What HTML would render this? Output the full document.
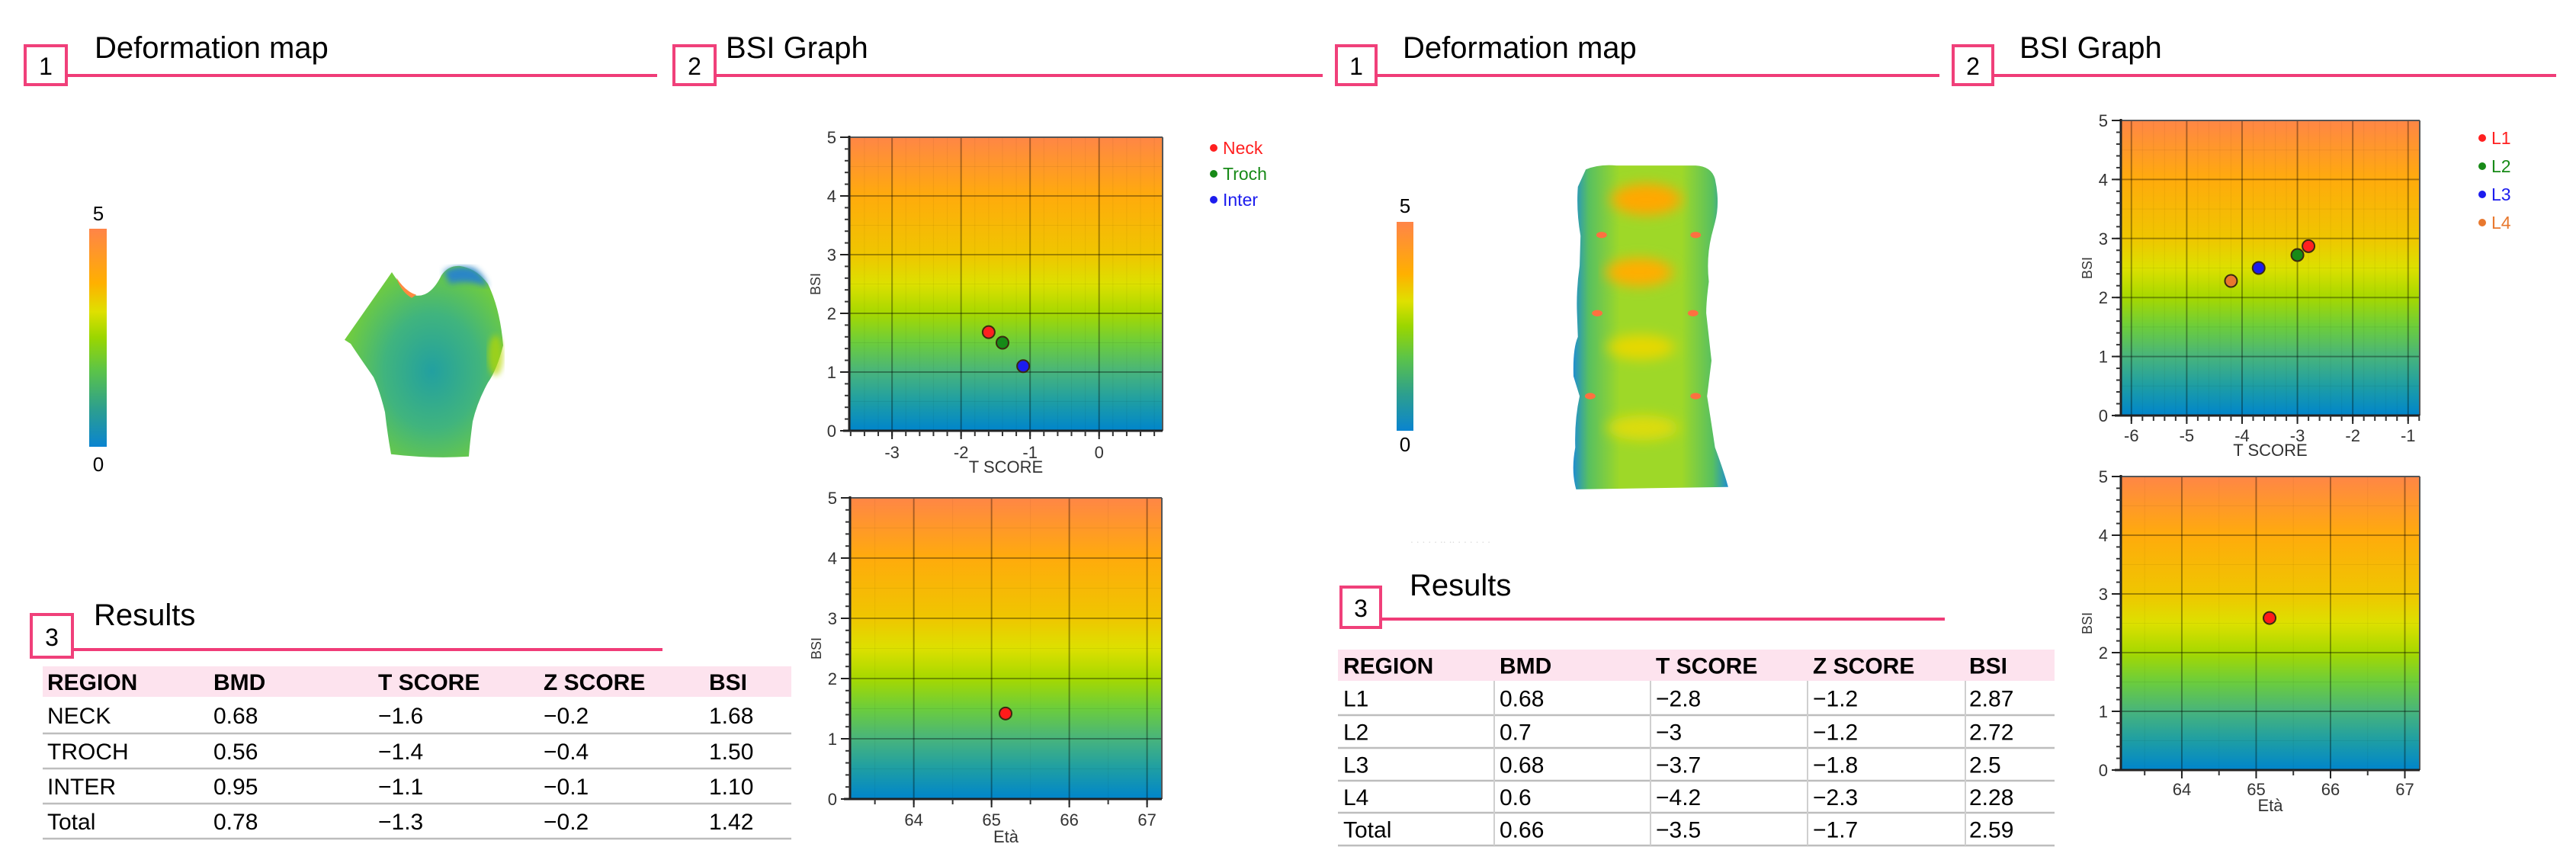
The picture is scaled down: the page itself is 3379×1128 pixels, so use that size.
<!DOCTYPE html>
<html><head><meta charset="utf-8"><title>BSI Report</title>
<style>
html,body{margin:0;padding:0;background:#fff;}
svg{display:block;font-family:"Liberation Sans",Arial,sans-serif;}
</style></head>
<body>
<svg id="root" width="3379" height="1128" viewBox="0 0 3379 1128" xmlns="http://www.w3.org/2000/svg">
<defs>
  <linearGradient id="plotGrad" x1="0" y1="0" x2="0" y2="1">
    <stop offset="0" stop-color="#ff8646"/>
    <stop offset="0.2" stop-color="#ffab0c"/>
    <stop offset="0.4" stop-color="#efc600"/>
    <stop offset="0.5" stop-color="#dde000"/>
    <stop offset="0.6" stop-color="#a6d800"/>
    <stop offset="0.7" stop-color="#6ccd3c"/>
    <stop offset="0.8" stop-color="#48b47c"/>
    <stop offset="0.9" stop-color="#1e9ea4"/>
    <stop offset="1" stop-color="#0085cc"/>
  </linearGradient>
  <linearGradient id="cbarGrad" x1="0" y1="0" x2="0" y2="1">
    <stop offset="0" stop-color="#ff8448"/>
    <stop offset="0.25" stop-color="#ffb000"/>
    <stop offset="0.38" stop-color="#dfe000"/>
    <stop offset="0.5" stop-color="#9ad600"/>
    <stop offset="0.65" stop-color="#5cc448"/>
    <stop offset="0.82" stop-color="#2ea08c"/>
    <stop offset="1" stop-color="#0a84d0"/>
  </linearGradient>
  <radialGradient id="boneGrad" cx="0.55" cy="0.55" r="0.6">
    <stop offset="0" stop-color="#22a0a0"/>
    <stop offset="0.5" stop-color="#40b47e"/>
    <stop offset="1" stop-color="#78d034"/>
  </radialGradient>
  <linearGradient id="spineGrad" x1="0" y1="0" x2="1" y2="0">
    <stop offset="0" stop-color="#1f8ed0"/>
    <stop offset="0.1" stop-color="#58c060"/>
    <stop offset="0.3" stop-color="#9ed828"/>
    <stop offset="0.7" stop-color="#9ed828"/>
    <stop offset="0.9" stop-color="#58c060"/>
    <stop offset="1" stop-color="#1f8ed0"/>
  </linearGradient>
  <filter id="blur8"><feGaussianBlur stdDeviation="8"/></filter>
  <filter id="blur4"><feGaussianBlur stdDeviation="4"/></filter>
</defs>

<!-- Section headers -->
<g>
  <rect x="33" y="60" width="54" height="51" fill="#fff" stroke="#f0407a" stroke-width="4"/>
  <text x="60" y="98" font-size="32" text-anchor="middle">1</text>
  <line x1="87" y1="99" x2="862" y2="99" stroke="#f03c78" stroke-width="4"/>
  <text x="124" y="76" font-size="40">Deformation map</text>
</g>
<g>
  <rect x="884" y="60" width="54" height="51" fill="#fff" stroke="#f0407a" stroke-width="4"/>
  <text x="911" y="98" font-size="32" text-anchor="middle">2</text>
  <line x1="938" y1="99" x2="1735" y2="99" stroke="#f03c78" stroke-width="4"/>
  <text x="952" y="76" font-size="40">BSI Graph</text>
</g>
<g>
  <rect x="1753" y="60" width="52" height="51" fill="#fff" stroke="#f0407a" stroke-width="4"/>
  <text x="1779" y="98" font-size="32" text-anchor="middle">1</text>
  <line x1="1805" y1="99" x2="2544" y2="99" stroke="#f03c78" stroke-width="4"/>
  <text x="1840" y="76" font-size="40">Deformation map</text>
</g>
<g>
  <rect x="2562" y="60" width="52" height="51" fill="#fff" stroke="#f0407a" stroke-width="4"/>
  <text x="2588" y="98" font-size="32" text-anchor="middle">2</text>
  <line x1="2614" y1="99" x2="3353" y2="99" stroke="#f03c78" stroke-width="4"/>
  <text x="2649" y="76" font-size="40">BSI Graph</text>
</g>

<!-- Left deformation map -->
<g>
  <text x="129" y="289" font-size="26" text-anchor="middle">5</text>
  <rect x="117" y="300" width="23" height="286" fill="url(#cbarGrad)"/>
  <text x="129" y="618" font-size="26" text-anchor="middle">0</text>
</g>
<g transform="translate(0,-3) scale(1,1.02)">
  <path d="M514 353 Q530 378 546 383 Q565 385 579 357 Q588 344 603 345 Q625 348 640 368 Q656 400 660 447 Q652 478 640 495 Q626 520 620 545 Q616 575 615 590 Q565 593 513 587 Q508 560 505 533 Q498 505 490 488 Q470 460 460 445 L452 440 Z" fill="url(#boneGrad)"/>
  <path d="M582 352 Q600 342 622 348 Q635 356 640 372 Q615 362 590 368 Z" fill="#2a86c6" filter="url(#blur4)"/>
  <path d="M520 360 Q532 378 546 382 L540 386 Q526 378 520 360 Z" fill="#ff8a40"/>
  <ellipse cx="650" cy="460" rx="10" ry="26" fill="#b8d800" opacity="0.7" filter="url(#blur4)"/>
</g>

<!-- Right deformation map -->
<g>
  <text x="1843" y="279" font-size="26" text-anchor="middle">5</text>
  <rect x="1832" y="291" width="22" height="274" fill="url(#cbarGrad)"/>
  <text x="1843" y="592" font-size="26" text-anchor="middle">0</text>
</g>
<g>
  <g transform="translate(-370,-3.6) scale(1.153,1.036)">
  <path d="M2125 218 Q2140 211 2160 213 L2250 213 Q2268 214 2272 230 Q2278 260 2272 285 L2268 302 Q2262 330 2265 360 Q2262 385 2262 400 Q2265 430 2268 460 L2263 505 Q2268 540 2272 570 Q2282 600 2287 620 L2114 623 Q2108 600 2113 570 Q2112 535 2118 505 L2111 480 Q2110 445 2116 430 L2115 400 Q2114 370 2118 340 L2119 302 Q2114 270 2116 240 Z" fill="url(#spineGrad)"/>
  <g filter="url(#blur8)">
    <ellipse cx="2194" cy="256" rx="40" ry="20" fill="#ffa800"/>
    <ellipse cx="2186" cy="348" rx="38" ry="18" fill="#ffae00"/>
    <ellipse cx="2188" cy="443" rx="38" ry="16" fill="#e6d800"/>
    <ellipse cx="2190" cy="545" rx="40" ry="16" fill="#dcdc10"/>
  </g>
  <g>
    <ellipse cx="2143" cy="301" rx="6" ry="4" fill="#ff7040"/>
    <ellipse cx="2250" cy="301" rx="6" ry="4" fill="#ff7040"/>
    <ellipse cx="2138" cy="400" rx="6" ry="4" fill="#ff7040"/>
    <ellipse cx="2247" cy="400" rx="6" ry="4" fill="#ff7040"/>
    <ellipse cx="2130" cy="505" rx="6" ry="4" fill="#ff7040"/>
    <ellipse cx="2250" cy="505" rx="6" ry="4" fill="#ff7040"/>
  </g>
  </g>
  <text x="1850" y="712" font-size="14" fill="#ddd">.  .  .   .  .  ..  ..  .  .   .  .  .   .</text>
</g>

<!-- Results sections -->
<g>
  <rect x="41" y="806" width="54" height="56" fill="#fff" stroke="#f0407a" stroke-width="4"/>
  <text x="68" y="847" font-size="32" text-anchor="middle">3</text>
  <line x1="95" y1="852" x2="869" y2="852" stroke="#f03c78" stroke-width="4"/>
  <text x="123" y="820" font-size="40">Results</text>
</g>
<g>
  <rect x="1759" y="770" width="52" height="53" fill="#fff" stroke="#f0407a" stroke-width="4"/>
  <text x="1785" y="809" font-size="32" text-anchor="middle">3</text>
  <line x1="1811" y1="812" x2="2551" y2="812" stroke="#f03c78" stroke-width="4"/>
  <text x="1849" y="781" font-size="40">Results</text>
</g>
<g id="tableLeft"></g>
<g id="tableRight"></g>

<g id="charts"></g>
</svg>

<script>
// ---------- Chart data ----------
const hipRegions = ["Neck", "Troch", "Inter"];
const hipTScore = [-1.6, -1.4, -1.1];
const hipBSI = [1.68, 1.50, 1.10];
const hipColors = ["#ff2020", "#178a17", "#1c1cee"];
const hipAge = [65.18];
const hipAgeBSI = [1.42];

const spineRegions = ["L1", "L2", "L3", "L4"];
const spineTScore = [-2.8, -3, -3.7, -4.2];
const spineBSI = [2.87, 2.72, 2.5, 2.28];
const spineColors = ["#ff2020", "#178a17", "#1c1cee", "#e8782e"];
const spineAge = [65.18];
const spineAgeBSI = [2.59];

const bsiTicks = [0, 1, 2, 3, 4, 5];
const hipTTicks = [-3, -2, -1, 0];
const spineTTicks = [-6, -5, -4, -3, -2, -1];
const ageTicks = [64, 65, 66, 67];

// ---------- Table data ----------
const tableHeaders = ["REGION", "BMD", "T SCORE", "Z SCORE", "BSI"];
const hipRows = [
  ["NECK", "0.68", "\u22121.6", "\u22120.2", "1.68"],
  ["TROCH", "0.56", "\u22121.4", "\u22120.4", "1.50"],
  ["INTER", "0.95", "\u22121.1", "\u22120.1", "1.10"],
  ["Total", "0.78", "\u22121.3", "\u22120.2", "1.42"]
];
const spineRows = [
  ["L1", "0.68", "\u22122.8", "\u22121.2", "2.87"],
  ["L2", "0.7", "\u22123", "\u22121.2", "2.72"],
  ["L3", "0.68", "\u22123.7", "\u22121.8", "2.5"],
  ["L4", "0.6", "\u22124.2", "\u22122.3", "2.28"],
  ["Total", "0.66", "\u22123.5", "\u22121.7", "2.59"]
];

const NS = "http://www.w3.org/2000/svg";
function mk(tag, attrs, parent) {
  const e = document.createElementNS(NS, tag);
  for (const k in attrs) e.setAttribute(k, attrs[k]);
  if (parent) parent.appendChild(e);
  return e;
}

function drawChart(parent, cfg, name) {
  const g = mk("g", {}, parent);
  
  
  const sx = v => cfg.l + (v - cfg.xmin) / (cfg.xmax - cfg.xmin) * (cfg.r - cfg.l);
  const sy = v => cfg.b - (v - 0) / (5 - 0) * (cfg.b - cfg.t);
  const bg = mk("rect", {x: cfg.l, y: cfg.t, width: cfg.r - cfg.l, height: cfg.b - cfg.t, fill: "url(#plotGrad)"}, g);
  
  
  for (let v = 0.5; v < 5; v += 0.5) {
    mk("line", {x1: cfg.l, x2: cfg.r, y1: sy(v), y2: sy(v), stroke: "rgba(0,0,0,0.06)", "stroke-width": 1}, g);
  }
  for (let v = Math.ceil(cfg.xmin / cfg.minor) * cfg.minor; v < cfg.xmax; v += cfg.minor) {
    mk("line", {x1: sx(v), x2: sx(v), y1: cfg.t, y2: cfg.b, stroke: "rgba(0,0,0,0.05)", "stroke-width": 1}, g);
  }
  bsiTicks.forEach(v => {
    if (v > 0 && v < 5) {
      const gl = mk("line", {x1: cfg.l, x2: cfg.r, y1: sy(v), y2: sy(v), stroke: "rgba(0,0,0,0.32)", "stroke-width": 2}, g);
      
      
    }
  });
  cfg.xticks.forEach(v => {
    const gl = mk("line", {x1: sx(v), x2: sx(v), y1: cfg.t, y2: cfg.b, stroke: "rgba(0,0,0,0.32)", "stroke-width": 2}, g);
    
    
  });
  mk("line", {x1: cfg.l, x2: cfg.r, y1: cfg.t, y2: cfg.t, stroke: "#555", "stroke-width": 2}, g);
  mk("line", {x1: cfg.r, x2: cfg.r, y1: cfg.t, y2: cfg.b, stroke: "#555", "stroke-width": 2}, g);
  mk("line", {x1: cfg.l, x2: cfg.l, y1: cfg.t - 2, y2: cfg.b, stroke: "#222", "stroke-width": 3}, g);
  mk("line", {x1: cfg.l - 8, x2: cfg.r, y1: cfg.b, y2: cfg.b, stroke: "#222", "stroke-width": 3}, g);
  for (let v = 0; v <= 5.001; v += 0.2) {
    mk("line", {x1: cfg.l - 6, x2: cfg.l, y1: sy(v), y2: sy(v), stroke: "#333", "stroke-width": 2}, g);
  }
  for (let v = Math.ceil(cfg.xmin / cfg.minor) * cfg.minor; v <= cfg.xmax; v += cfg.minor) {
    mk("line", {x1: sx(v), x2: sx(v), y1: cfg.b, y2: cfg.b + 7, stroke: "#333", "stroke-width": 2}, g);
  }
  bsiTicks.forEach(v => {
    mk("line", {x1: cfg.l - 12, x2: cfg.l, y1: sy(v), y2: sy(v), stroke: "#222", "stroke-width": 2}, g);
    const t = mk("text", {x: cfg.l - 17, y: sy(v) + 8, "font-size": 22, "text-anchor": "end", fill: "#333"}, g);
    t.textContent = String(v);
    
    
  });
  cfg.xticks.forEach(v => {
    mk("line", {x1: sx(v), x2: sx(v), y1: cfg.b, y2: cfg.b + 11, stroke: "#222", "stroke-width": 2}, g);
    const t = mk("text", {x: sx(v), y: cfg.xlabY + 8, "font-size": 22, "text-anchor": "middle", fill: "#333"}, g);
    t.textContent = String(v);
    
    
  });
  const xt = mk("text", {x: (cfg.l + cfg.r) / 2, y: cfg.xtitleY + 8, "font-size": 22, "text-anchor": "middle", fill: "#333"}, g);
  xt.textContent = cfg.xtitle;
  
  
  const yx = cfg.l - 38, yy = (cfg.t + cfg.b) / 2;
  const yt = mk("text", {x: yx, y: yy, "font-size": 18, "text-anchor": "middle", fill: "#333", transform: "rotate(-90 " + yx + " " + yy + ")"}, g);
  yt.textContent = "BSI";
  
  
  cfg.xs.forEach((xv, i) => {
    const c = mk("circle", {cx: sx(xv), cy: sy(cfg.ys[i]), r: 8, fill: cfg.colors[i], stroke: "#3a2a10", "stroke-width": 2}, g);
    
    
  });
  if (cfg.legend) {
    cfg.names.forEach((n, i) => {
      const ly = cfg.legend.y + i * cfg.legend.dy;
      const lg = mk("g", {}, g);
      
      
      mk("circle", {cx: cfg.legend.x, cy: ly, r: 5, fill: cfg.colors[i]}, lg);
      const t = mk("text", {x: cfg.legend.x + 12, y: ly + 8, "font-size": 23, fill: cfg.colors[i]}, lg);
      t.textContent = n;
    });
  }
}

const charts = document.getElementById("charts");
drawChart(charts, {l: 1114, r: 1525, t: 180, b: 565, xmin: -3.62, xmax: 0.92, minor: 0.2,
  xticks: hipTTicks, xlabY: 593, xtitleY: 612, xtitle: "T SCORE",
  xs: hipTScore, ys: hipBSI, colors: hipColors, names: hipRegions,
  legend: {x: 1592, y: 194, dy: 34}}, "bsi-vs-tscore-hip");
drawChart(charts, {l: 1115, r: 1524, t: 653, b: 1048, xmin: 63.18, xmax: 67.19, minor: 0.5,
  xticks: ageTicks, xlabY: 1075, xtitleY: 1097, xtitle: "Età",
  xs: hipAge, ys: hipAgeBSI, colors: ["#ff1a1a"], names: ["Total"]}, "bsi-vs-age-hip");
drawChart(charts, {l: 2782, r: 3174, t: 158, b: 545, xmin: -6.19, xmax: -0.79, minor: 0.2,
  xticks: spineTTicks, xlabY: 571, xtitleY: 590, xtitle: "T SCORE",
  xs: spineTScore, ys: spineBSI, colors: spineColors, names: spineRegions,
  legend: {x: 3256, y: 181, dy: 37}}, "bsi-vs-tscore-spine");
drawChart(charts, {l: 2782, r: 3174, t: 625, b: 1010, xmin: 63.18, xmax: 67.2, minor: 0.5,
  xticks: ageTicks, xlabY: 1035, xtitleY: 1056, xtitle: "Età",
  xs: spineAge, ys: spineAgeBSI, colors: ["#ff1a1a"], names: ["Total"]}, "bsi-vs-age-spine");

// ---------- Tables ----------
function drawTable(g, cfg, rows) {
  const band = mk("rect", {x: cfg.l, y: cfg.ht, width: cfg.r - cfg.l, height: cfg.hb - cfg.ht, fill: "#fde3ee"}, g);
  
  
  tableHeaders.forEach((h, j) => {
    const t = mk("text", {x: cfg.cols[j], y: (cfg.ht + cfg.hb) / 2 + 11, "font-size": 30, "font-weight": "bold"}, g);
    t.textContent = h;
    
    
  });
  let top = cfg.hb;
  rows.forEach((row, i) => {
    const bot = cfg.lines[i];
    row.forEach((c, j) => {
      const t = mk("text", {x: cfg.cols[j], y: (top + bot) / 2 + 11, "font-size": 30}, g);
      t.textContent = c;
      
      
    });
    mk("line", {x1: cfg.l, x2: cfg.r, y1: bot, y2: bot, stroke: "#bdbdbd", "stroke-width": 2.5}, g);
    top = bot;
  });
  if (cfg.vlines) cfg.vlines.forEach(x => {
    mk("line", {x1: x, x2: x, y1: cfg.hb, y2: cfg.lines[cfg.lines.length - 1], stroke: "#cfcfcf", "stroke-width": 2}, g);
  });
}
drawTable(document.getElementById("tableLeft"), {l: 56, r: 1038, ht: 874, hb: 914,
  cols: [62, 280, 496, 713, 930], lines: [962, 1008, 1054, 1100]}, hipRows);
drawTable(document.getElementById("tableRight"), {l: 1755, r: 2695, ht: 852, hb: 893,
  cols: [1762, 1967, 2172, 2378, 2583], lines: [938, 981, 1024, 1066, 1109],
  vlines: [1960, 2165, 2371, 2578]}, spineRows);
</script>
</body></html>
